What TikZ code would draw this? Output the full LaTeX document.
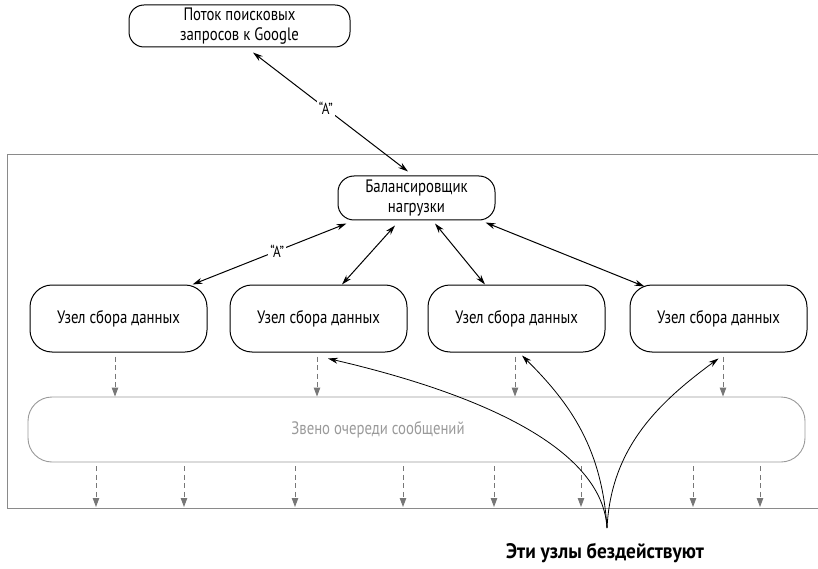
\documentclass[tikz,border=0pt]{standalone}
\usepackage{fontspec}
\setmainfont[FakeStretch=0.82]{PT Sans}
\newfontfamily\notefont[FakeStretch=0.92]{PT Sans}
\usetikzlibrary{arrows.meta,calc}

\definecolor{frame}{HTML}{8A8A8A}
\definecolor{queue}{HTML}{9A9A9A}
\definecolor{flow}{HTML}{777777}

\tikzset{
  box/.style={draw=black, line width=1pt, rounded corners=16pt, align=center,
              font=\fontsize{18}{20.5}\selectfont, inner sep=0pt},
  collector/.style={box, minimum width=177pt, minimum height=67pt, rounded corners=22pt},
  queuebox/.style={draw=queue, line width=0.9pt, rounded corners=24pt,
              minimum width=777pt, minimum height=65pt, text=queue,
              font=\fontsize{18}{20}\selectfont},
  link/.style={line width=1pt, {Stealth[length=10pt,width=6pt]}-{Stealth[length=10pt,width=6pt]}},
  pointer/.style={line width=0.8pt, -{Stealth[length=10pt,width=6pt]}},
  dasharrow/.style={draw=flow, line width=0.9pt, dash pattern=on 5pt off 3.5pt,
              -{Triangle[length=9pt,width=6.5pt,fill=flow]}},
  quote/.style={fill=white, inner sep=2pt, font=\fontsize{16}{18}\selectfont},
}

\begin{document}
\begin{tikzpicture}[x=1pt,y=-1pt]
  \useasboundingbox (0,0) rectangle (818,569);

  % cluster frame, open on the right
  \draw[frame, line width=0.9pt] (818,154) -- (7,154) -- (7,508) -- (818,508);

  % nodes
  \node[box, minimum width=221pt, minimum height=42pt, rounded corners=15pt]
       (google) at (239.5,26) {Поток поисковых\\запросов к Google};
  \node[box, minimum width=157pt, minimum height=44pt, rounded corners=16pt]
       (lb) at (416.5,198) {Балансировщик\\нагрузки};
  \node[collector] (n1) at (118.5,318.5) {Узел сбора данных};
  \node[collector] (n2) at (318.5,318.5) {Узел сбора данных};
  \node[collector] (n3) at (516.5,318.5) {Узел сбора данных};
  \node[collector] (n4) at (718.5,318.5) {Узел сбора данных};
  \node[queuebox] (q) at (416.5,429.5) {\hspace*{-77pt}Звено очереди сообщений};

  \node[font=\notefont\bfseries\fontsize{21}{23}\selectfont] (idlelbl) at (605,553)
       {Эти узлы бездействуют};
  \coordinate (idle) at (607,528);

  % request stream to balancer
  \draw[link] ([xshift=13.5pt,yshift=-5pt]google.south)
      -- node[quote, pos=0.47] {“A”} ([xshift=-8.5pt,yshift=4pt]lb.north);

  % balancer to collectors
  \draw[link] ([xshift=9pt,yshift=-3pt]lb.south west)
      -- node[quote, pos=0.45] {“A”} ([xshift=-15pt]n1.north east);
  \draw[link] ([xshift=-21.5pt,yshift=-5pt]lb.south) -- ([xshift=23.5pt]n2.north);
  \draw[link] ([xshift=18.5pt,yshift=-3pt]lb.south) -- ([xshift=-31.5pt]n3.north);
  \draw[link] ([xshift=-10pt,yshift=-2pt]lb.south east) -- ([xshift=15pt,yshift=-2pt]n4.north west);

  % collectors into queue
  \coordinate (d1) at (115,0);
  \coordinate (d2) at (317,0);
  \coordinate (d3) at (515,0);
  \coordinate (d4) at (723,0);
  \draw[dasharrow] ([yshift=-4pt]n1.south -| d1) -- (q.north -| d1);
  \draw[dasharrow] ([yshift=-4pt]n2.south -| d2) -- (q.north -| d2);
  \draw[dasharrow] ([yshift=-4pt]n3.south -| d3) -- (q.north -| d3);
  \draw[dasharrow] ([yshift=-4pt]n4.south -| d4) -- (q.north -| d4);

  % queue outputs
  \foreach \x [count=\i] in {96,184,295,403,494,581,693,760} {
    \coordinate (out\i) at (\x,507);
    \draw[dasharrow] ([yshift=-4pt]q.south -| out\i) -- (out\i);
  }

  % idle collectors
  \draw[pointer] (idle) .. controls (602,440) and (455,388) .. ([xshift=9.5pt,yshift=-6pt]n2.south);
  \draw[pointer] (idle) .. controls (602,450) and (572,405) .. ([xshift=5.5pt,yshift=-3pt]n3.south);
  \draw[pointer] (idle) .. controls (611,450) and (655,405) .. ([yshift=-6pt]n4.south);
\end{tikzpicture}
\end{document}
